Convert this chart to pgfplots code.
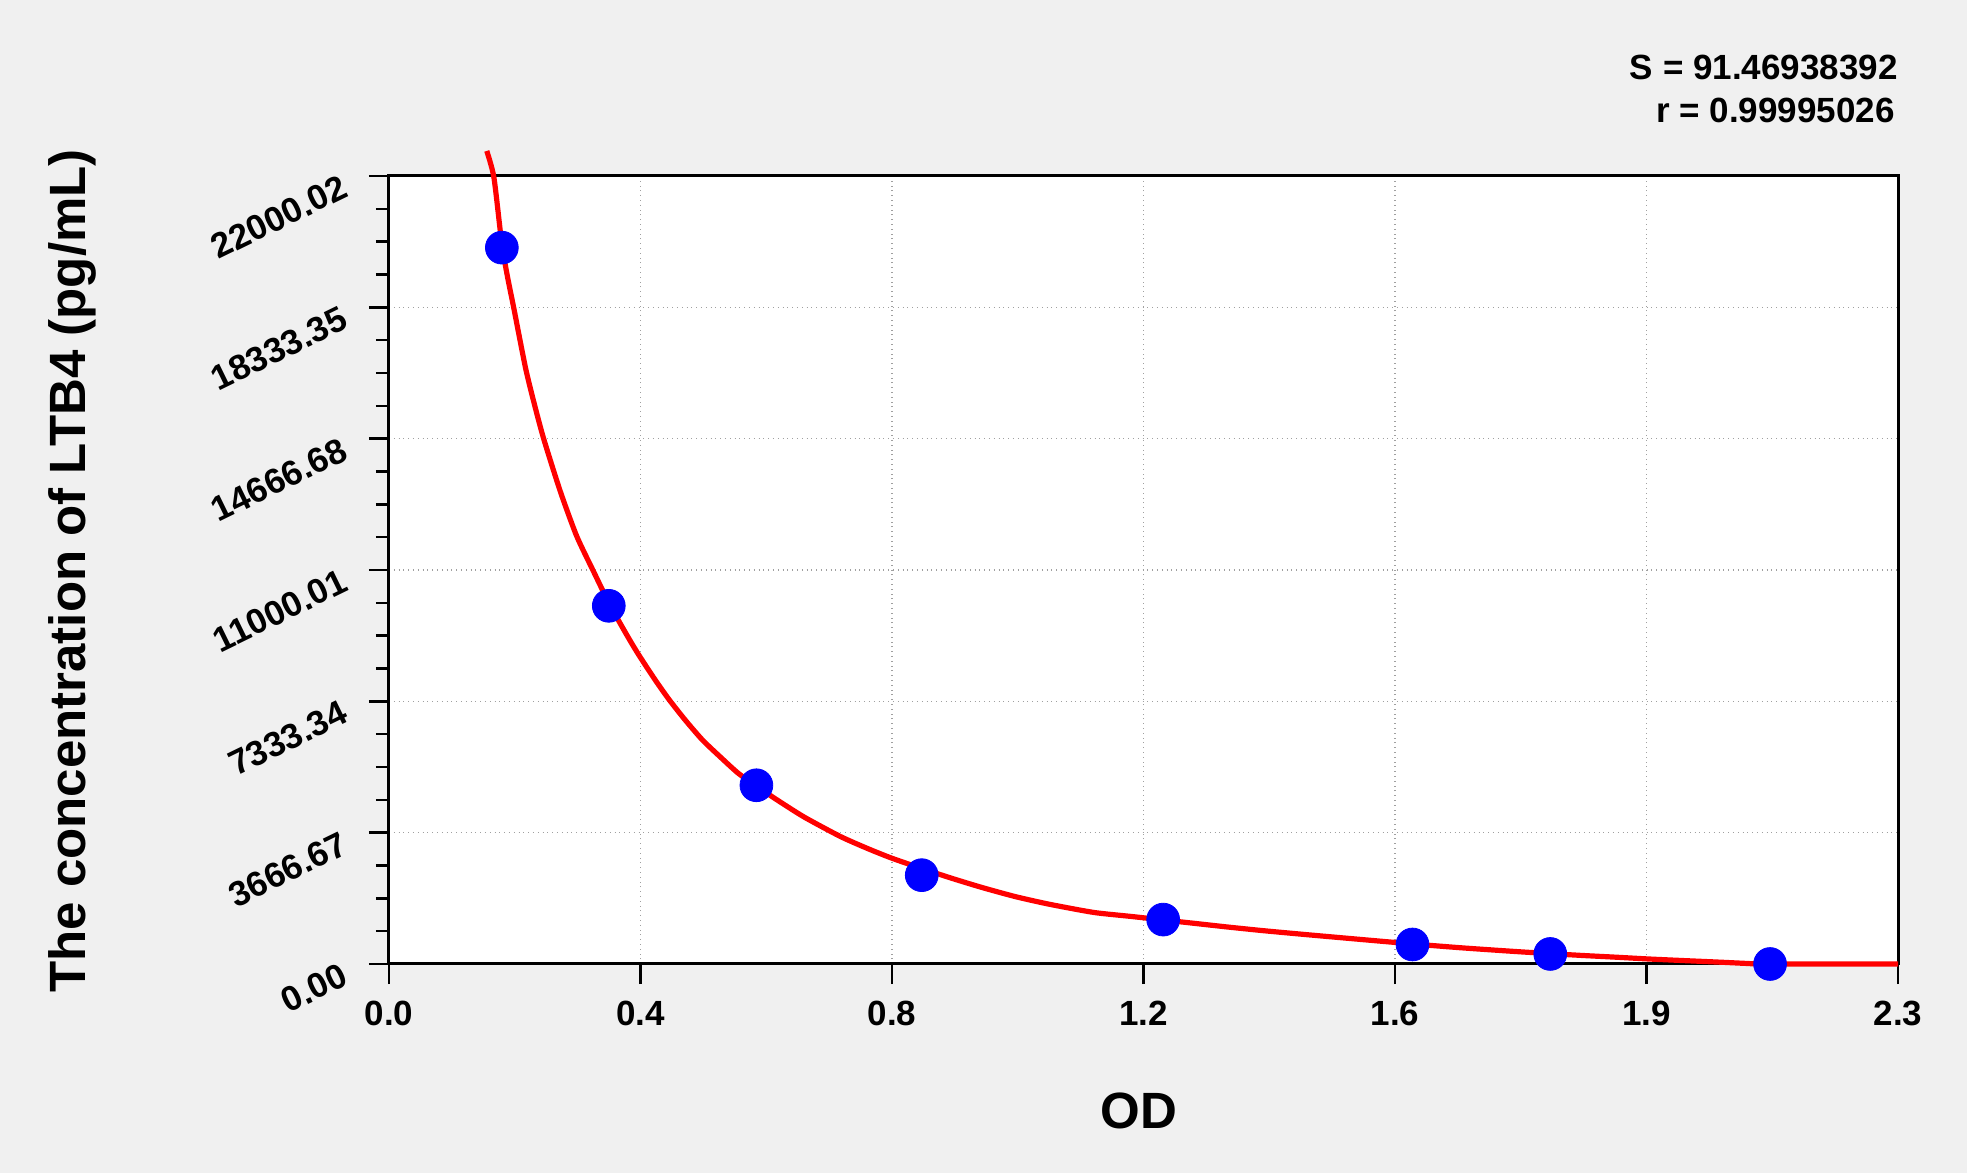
\documentclass[border=0pt]{standalone}
\usepackage{fontspec}
\setmainfont{Liberation Sans}
\usepackage{pgfplots}
\pgfplotsset{compat=1.18}
\definecolor{bg}{RGB}{240,240,240}
\definecolor{gridc}{RGB}{160,160,160}
\begin{document}
\begin{tikzpicture}
\fill[bg, use as bounding box] (-194.5pt,-104.5pt) rectangle (789pt,482pt);
\begin{axis}[
 at={(0pt,0pt)}, anchor=south west,
 scale only axis, width=754.5pt, height=394pt,
 xmin=0, xmax=2.3, ymin=0, ymax=22000.02,
 axis background/.style={fill=white},
 clip=false,
 xtick={0,0.383333,0.766667,1.15,1.533333,1.916667,2.3},
 xticklabels={0.0,0.4,0.8,1.2,1.6,1.9,2.3},
 ytick={0,3666.67,7333.34,11000.01,14666.68,18333.35,22000.02},
 yticklabels={0.00,3666.67,7333.34,11000.01,14666.68,18333.35,22000.02},
 minor x tick num=3, minor y tick num=3,
 xtick pos=bottom, ytick pos=left,
 tick align=outside,
 major tick length=10pt, minor tick length=6.5pt,
 every tick/.style={black, line width=1.2pt},
 axis line style={line width=1.5pt},
 grid=major,
 major grid style={gridc, dotted, line width=0.7pt},
 ticklabel style={font=\fontsize{17.5}{20}\selectfont\bfseries},
 xticklabel style={yshift=-5pt},
 yticklabel style={xshift=-9pt, yshift=-3pt, rotate=26, anchor=east},
 /pgf/number format/assume math mode=true,
 scaled y ticks=false, scaled x ticks=false,
]
\addplot[only marks, mark=*, mark size=8.2pt, blue, mark options={fill=blue, draw=blue}] coordinates {
 (0.172,20000) (0.335,10000) (0.560,4990) (0.812,2480) (1.180,1240) (1.560,545) (1.770,280) (2.105,0)
};
\addplot[red, line width=2.6pt, line join=round, smooth, tension=0.4] coordinates {
 (0.149,22700) (0.160,21950) (0.172,20100) (0.181,19150) (0.190,18333)
 (0.208,16650) (0.222,15600) (0.236,14650) (0.261,13200) (0.286,11950)
 (0.312,10950) (0.336,10050) (0.362,9200) (0.380,8650) (0.405,7950)
 (0.427,7380) (0.452,6800) (0.478,6250) (0.505,5780) (0.532,5330)
 (0.561,4950) (0.600,4480) (0.634,4090) (0.688,3560) (0.730,3220)
 (0.767,2950) (0.813,2660) (0.860,2380) (0.905,2130) (0.955,1880)
 (1.006,1670) (1.074,1440) (1.130,1330) (1.180,1230) (1.230,1130)
 (1.277,1035) (1.330,935) (1.386,840) (1.435,760) (1.497,660)
 (1.560,560) (1.636,450) (1.720,345) (1.770,290) (1.817,240)
 (1.870,190) (1.920,140) (1.980,90) (2.030,50) (2.070,15)
 (2.100,0) (2.300,0)
};
\end{axis}
\node[rotate=90, font=\fontsize{25.5}{30}\selectfont\bfseries] at (-158.5pt,196.5pt) {The concentration of LTB4 (pg/mL)};
\node[font=\fontsize{25.5}{30}\selectfont\bfseries] at (375pt,-73.5pt) {OD};
\node[anchor=east, inner sep=0pt, font=\fontsize{17.5}{20}\selectfont\bfseries] at (754.5pt,448.5pt) {S = 91.46938392};
\node[anchor=east, inner sep=0pt, font=\fontsize{17.5}{20}\selectfont\bfseries] at (753pt,427pt) {r = 0.99995026};
\end{tikzpicture}
\end{document}
